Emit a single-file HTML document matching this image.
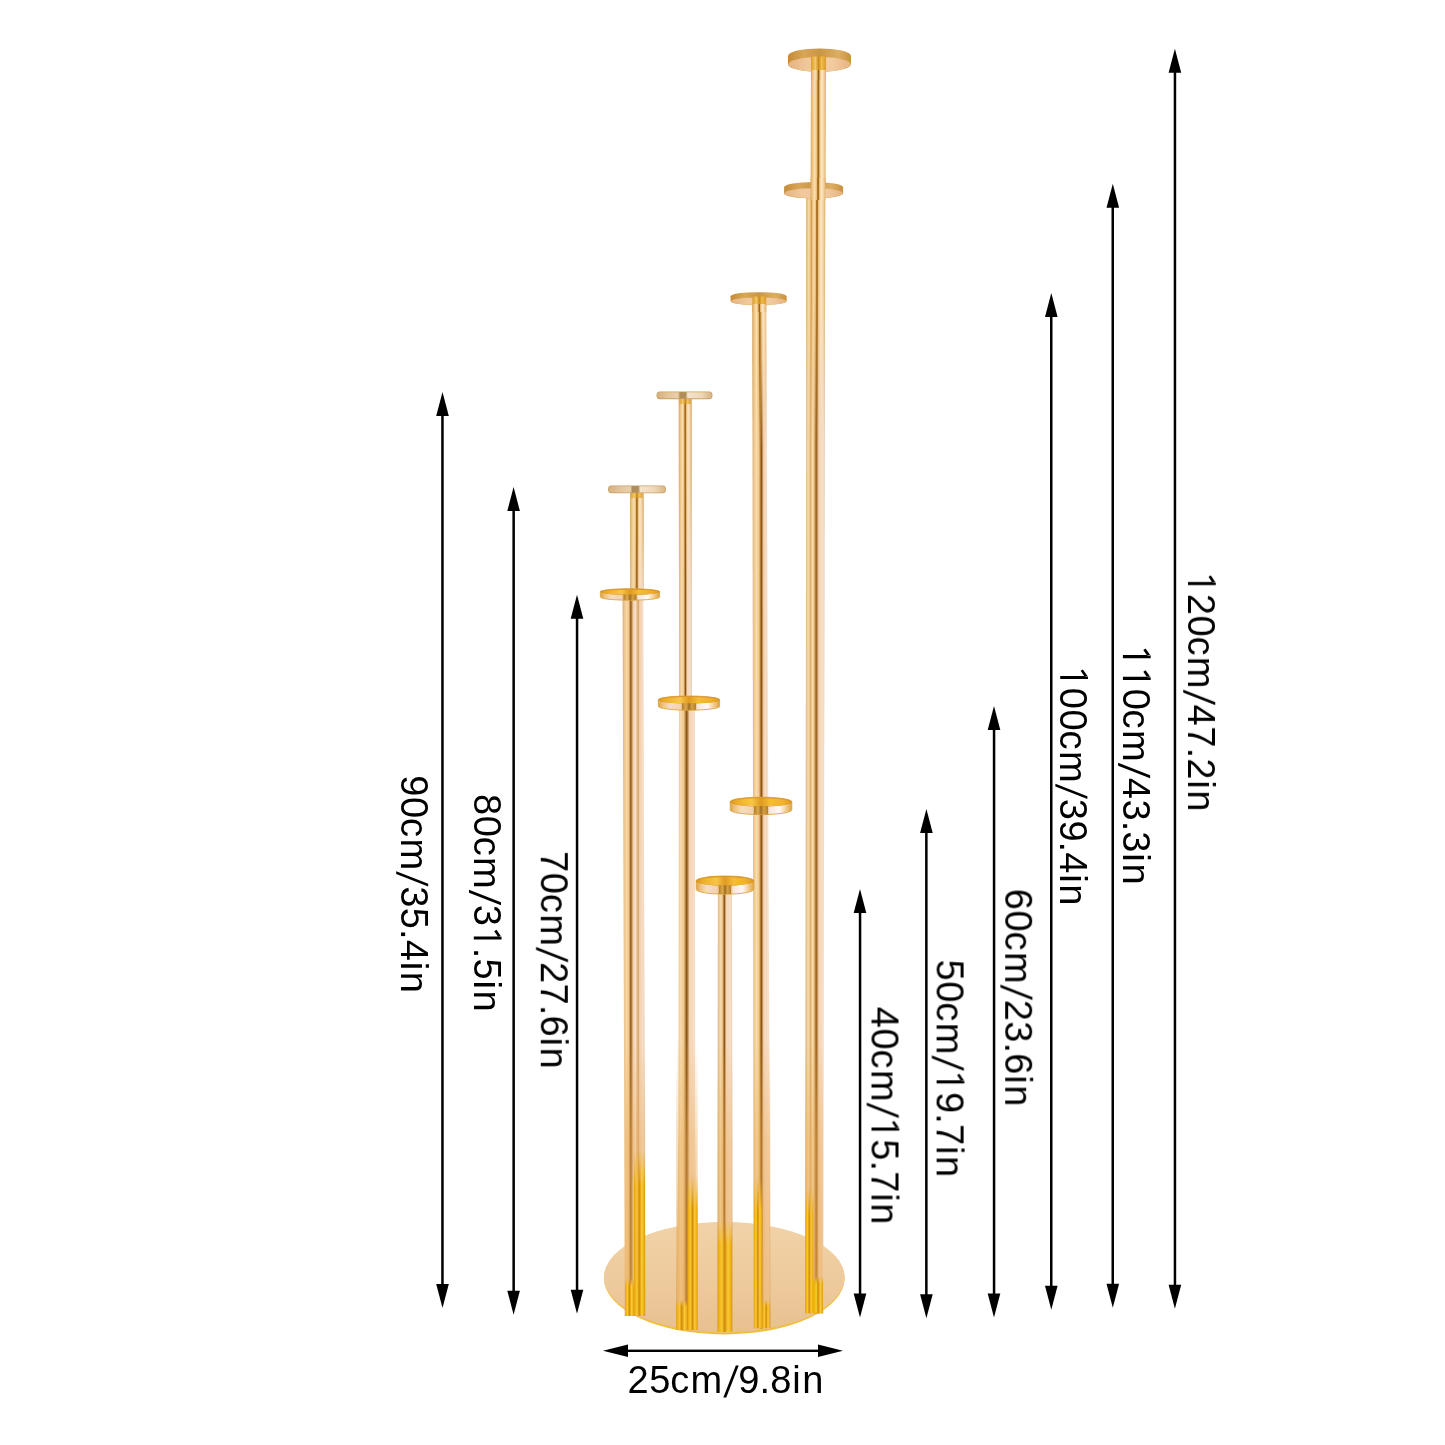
<!DOCTYPE html>
<html><head><meta charset="utf-8"><title>Candle holder dimensions</title>
<style>
html,body{margin:0;padding:0;background:#fff;}
body{width:1445px;height:1445px;overflow:hidden;}
svg{display:block;}
text{font-family:"Liberation Sans",sans-serif;fill:#000;}
</style></head><body>
<svg width="1445" height="1445" viewBox="0 0 1445 1445">
<defs>
<linearGradient id="gP5u" x1="0" y1="0" x2="1" y2="0"><stop offset="0.000" stop-color="#cfa46e"/><stop offset="0.060" stop-color="#e9c088"/><stop offset="0.211" stop-color="#f8dcaa"/><stop offset="0.320" stop-color="#efc58c"/><stop offset="0.407" stop-color="#b07a34"/><stop offset="0.470" stop-color="#c08630"/><stop offset="0.533" stop-color="#b98646"/><stop offset="0.620" stop-color="#f5d5b6"/><stop offset="0.900" stop-color="#f8dfc8"/><stop offset="0.960" stop-color="#e6ceb4"/><stop offset="1.000" stop-color="#c9b396"/></linearGradient>
<linearGradient id="gP5l" x1="0" y1="0" x2="1" y2="0"><stop offset="0.000" stop-color="#cfa46e"/><stop offset="0.060" stop-color="#e9c088"/><stop offset="0.150" stop-color="#f8dcaa"/><stop offset="0.270" stop-color="#e2b272"/><stop offset="0.370" stop-color="#f8dcaa"/><stop offset="0.440" stop-color="#efc58c"/><stop offset="0.518" stop-color="#b07a34"/><stop offset="0.560" stop-color="#9a6424"/><stop offset="0.602" stop-color="#b98646"/><stop offset="0.680" stop-color="#f5d5b6"/><stop offset="0.900" stop-color="#f8dfc8"/><stop offset="0.960" stop-color="#e6ceb4"/><stop offset="1.000" stop-color="#c9b396"/></linearGradient>
<linearGradient id="gP4" x1="0" y1="0" x2="1" y2="0"><stop offset="0.000" stop-color="#cfa46e"/><stop offset="0.060" stop-color="#e9c088"/><stop offset="0.225" stop-color="#f8dcaa"/><stop offset="0.370" stop-color="#efc58c"/><stop offset="0.451" stop-color="#b07a34"/><stop offset="0.500" stop-color="#834e14"/><stop offset="0.549" stop-color="#b98646"/><stop offset="0.630" stop-color="#f5d5b6"/><stop offset="0.900" stop-color="#f8dfc8"/><stop offset="0.960" stop-color="#e6ceb4"/><stop offset="1.000" stop-color="#c9b396"/></linearGradient>
<linearGradient id="gP3" x1="0" y1="0" x2="1" y2="0"><stop offset="0.000" stop-color="#cfa46e"/><stop offset="0.060" stop-color="#e9c088"/><stop offset="0.207" stop-color="#f8dcaa"/><stop offset="0.330" stop-color="#efc58c"/><stop offset="0.411" stop-color="#b07a34"/><stop offset="0.460" stop-color="#834e14"/><stop offset="0.509" stop-color="#b98646"/><stop offset="0.590" stop-color="#f5d5b6"/><stop offset="0.900" stop-color="#f8dfc8"/><stop offset="0.960" stop-color="#e6ceb4"/><stop offset="1.000" stop-color="#c9b396"/></linearGradient>
<linearGradient id="gP2u" x1="0" y1="0" x2="1" y2="0"><stop offset="0.000" stop-color="#cfa46e"/><stop offset="0.060" stop-color="#e9c088"/><stop offset="0.234" stop-color="#f8dcaa"/><stop offset="0.390" stop-color="#efc58c"/><stop offset="0.471" stop-color="#b07a34"/><stop offset="0.520" stop-color="#834e14"/><stop offset="0.569" stop-color="#b98646"/><stop offset="0.650" stop-color="#f5d5b6"/><stop offset="0.900" stop-color="#f8dfc8"/><stop offset="0.960" stop-color="#e6ceb4"/><stop offset="1.000" stop-color="#c9b396"/></linearGradient>
<linearGradient id="gP2l" x1="0" y1="0" x2="1" y2="0"><stop offset="0.000" stop-color="#cfa46e"/><stop offset="0.060" stop-color="#e9c088"/><stop offset="0.221" stop-color="#f8dcaa"/><stop offset="0.360" stop-color="#efc58c"/><stop offset="0.441" stop-color="#b07a34"/><stop offset="0.490" stop-color="#834e14"/><stop offset="0.539" stop-color="#b98646"/><stop offset="0.620" stop-color="#f5d5b6"/><stop offset="0.900" stop-color="#f8dfc8"/><stop offset="0.960" stop-color="#e6ceb4"/><stop offset="1.000" stop-color="#c9b396"/></linearGradient>
<linearGradient id="gP1u" x1="0" y1="0" x2="1" y2="0"><stop offset="0.000" stop-color="#cfa46e"/><stop offset="0.060" stop-color="#e9c088"/><stop offset="0.225" stop-color="#f8dcaa"/><stop offset="0.370" stop-color="#efc58c"/><stop offset="0.451" stop-color="#b07a34"/><stop offset="0.500" stop-color="#834e14"/><stop offset="0.549" stop-color="#b98646"/><stop offset="0.630" stop-color="#f5d5b6"/><stop offset="0.900" stop-color="#f8dfc8"/><stop offset="0.960" stop-color="#e6ceb4"/><stop offset="1.000" stop-color="#c9b396"/></linearGradient>
<linearGradient id="gU" x1="0" y1="0" x2="1" y2="0"><stop offset="0.000" stop-color="#d8a458"/><stop offset="0.100" stop-color="#ecc07c"/><stop offset="0.280" stop-color="#fae0b0"/><stop offset="0.410" stop-color="#ecbc74"/><stop offset="0.465" stop-color="#a87224"/><stop offset="0.500" stop-color="#8e5c1a"/><stop offset="0.535" stop-color="#a87224"/><stop offset="0.590" stop-color="#ecbe78"/><stop offset="0.720" stop-color="#fce8c8"/><stop offset="0.860" stop-color="#f4d09c"/><stop offset="1.000" stop-color="#dcae6c"/></linearGradient>
<linearGradient id="gU2" x1="0" y1="0" x2="1" y2="0"><stop offset="0.000" stop-color="#d8a458"/><stop offset="0.070" stop-color="#ecc07c"/><stop offset="0.160" stop-color="#fae0b0"/><stop offset="0.250" stop-color="#e4ae62"/><stop offset="0.290" stop-color="#d89c4c"/><stop offset="0.360" stop-color="#f4d098"/><stop offset="0.470" stop-color="#f8dcac"/><stop offset="0.520" stop-color="#e6b268"/><stop offset="0.550" stop-color="#a87224"/><stop offset="0.575" stop-color="#8e5c1a"/><stop offset="0.600" stop-color="#a87224"/><stop offset="0.635" stop-color="#eabc76"/><stop offset="0.780" stop-color="#fce8c8"/><stop offset="0.900" stop-color="#f4d09c"/><stop offset="1.000" stop-color="#dcae6c"/></linearGradient>
<linearGradient id="gP5lL" x1="0" y1="0" x2="1" y2="0"><stop offset="0.000" stop-color="#cfa46e"/><stop offset="0.060" stop-color="#e9c088"/><stop offset="0.100" stop-color="#f8dcaa"/><stop offset="0.220" stop-color="#e2b272"/><stop offset="0.320" stop-color="#f8dcaa"/><stop offset="0.360" stop-color="#efc58c"/><stop offset="0.444" stop-color="#e2ae62"/><stop offset="0.500" stop-color="#d9a152"/><stop offset="0.556" stop-color="#e6b670"/><stop offset="0.640" stop-color="#f3cc9c"/><stop offset="0.900" stop-color="#f8dfc8"/><stop offset="0.960" stop-color="#e6ceb4"/><stop offset="1.000" stop-color="#c9b396"/></linearGradient>
<linearGradient id="gP4L" x1="0" y1="0" x2="1" y2="0"><stop offset="0.000" stop-color="#cfa46e"/><stop offset="0.060" stop-color="#e9c088"/><stop offset="0.225" stop-color="#f8dcaa"/><stop offset="0.350" stop-color="#efc58c"/><stop offset="0.437" stop-color="#dfa95c"/><stop offset="0.500" stop-color="#d59c4a"/><stop offset="0.563" stop-color="#e4b26a"/><stop offset="0.650" stop-color="#f3cc9c"/><stop offset="0.900" stop-color="#f8dfc8"/><stop offset="0.960" stop-color="#e6ceb4"/><stop offset="1.000" stop-color="#c9b396"/></linearGradient>
<linearGradient id="topfade" gradientUnits="userSpaceOnUse" x1="0" y1="200" x2="0" y2="470"><stop offset="0" stop-color="#fff"/><stop offset="0.35" stop-color="#ddd"/><stop offset="1" stop-color="#000"/></linearGradient>
<mask id="mTop" maskUnits="userSpaceOnUse" x="0" y="0" width="1445" height="1445"><rect width="1445" height="1445" fill="url(#topfade)"/></mask>
<linearGradient id="gP1l" x1="0" y1="0" x2="1" y2="0"><stop offset="0.000" stop-color="#cfa46e"/><stop offset="0.050" stop-color="#e9c088"/><stop offset="0.170" stop-color="#f6d6a4"/><stop offset="0.280" stop-color="#efc58c"/><stop offset="0.330" stop-color="#b07a34"/><stop offset="0.365" stop-color="#834e14"/><stop offset="0.400" stop-color="#b98646"/><stop offset="0.470" stop-color="#f3d0ac"/><stop offset="0.570" stop-color="#f8dfc6"/><stop offset="0.650" stop-color="#e3b682"/><stop offset="0.690" stop-color="#d6a46a"/><stop offset="0.750" stop-color="#f2d0ae"/><stop offset="0.900" stop-color="#f8dfc8"/><stop offset="0.960" stop-color="#e6ceb4"/><stop offset="1.000" stop-color="#c9b396"/></linearGradient>
<linearGradient id="yel" x1="0" y1="0" x2="1" y2="0"><stop offset="0.000" stop-color="#e4a010"/><stop offset="0.120" stop-color="#f1b318"/><stop offset="0.300" stop-color="#f8c830"/><stop offset="0.460" stop-color="#d28c0c"/><stop offset="0.540" stop-color="#dc9a10"/><stop offset="0.700" stop-color="#f9cc38"/><stop offset="0.880" stop-color="#efb018"/><stop offset="1.000" stop-color="#d89410"/></linearGradient>
<linearGradient id="fadeg" x1="0" y1="0" x2="0" y2="1"><stop offset="0.000" stop-color="#000"/><stop offset="0.220" stop-color="#fff"/><stop offset="1.000" stop-color="#fff"/></linearGradient>
<mask id="fadeTop" maskContentUnits="objectBoundingBox"><rect width="1" height="1" fill="url(#fadeg)"/></mask>
<linearGradient id="warm" x1="0" y1="0" x2="0" y2="1"><stop offset="0.000" stop-color="#e8aa56" stop-opacity="0.00"/><stop offset="0.350" stop-color="#e8aa56" stop-opacity="0.38"/><stop offset="1.000" stop-color="#e6a44c" stop-opacity="0.55"/></linearGradient>
<linearGradient id="baseg" x1="0" y1="0" x2="0" y2="1"><stop offset="0.000" stop-color="#f1d2a8"/><stop offset="0.500" stop-color="#eecb9e"/><stop offset="1.000" stop-color="#e8c090"/></linearGradient>
<linearGradient id="dishTop" x1="0" y1="0" x2="1" y2="0"><stop offset="0.000" stop-color="#dc9a1e"/><stop offset="0.120" stop-color="#efb02a"/><stop offset="0.350" stop-color="#f7c548"/><stop offset="0.500" stop-color="#e09a20"/><stop offset="0.650" stop-color="#f5bc36"/><stop offset="0.880" stop-color="#f0b02a"/><stop offset="1.000" stop-color="#dc9a1e"/></linearGradient>
<linearGradient id="dishWall" x1="0" y1="0" x2="1" y2="0"><stop offset="0.000" stop-color="#dfa23e"/><stop offset="0.070" stop-color="#eec07c"/><stop offset="0.180" stop-color="#f6dcc0"/><stop offset="0.360" stop-color="#f3d2b0"/><stop offset="0.420" stop-color="#d59a3a"/><stop offset="0.580" stop-color="#d59a3a"/><stop offset="0.640" stop-color="#f8e6d6"/><stop offset="0.800" stop-color="#fffaf4"/><stop offset="0.920" stop-color="#f0c684"/><stop offset="1.000" stop-color="#dfa23e"/></linearGradient>
<linearGradient id="stemg" x1="0" y1="0" x2="1" y2="0"><stop offset="0.000" stop-color="#b47e28"/><stop offset="0.300" stop-color="#dcaa4c"/><stop offset="0.500" stop-color="#a06c20"/><stop offset="0.700" stop-color="#d6a044"/><stop offset="1.000" stop-color="#b47e28"/></linearGradient>
<linearGradient id="discU2" x1="0" y1="0" x2="1" y2="0"><stop offset="0.000" stop-color="#e2c094"/><stop offset="0.300" stop-color="#f0d6b4"/><stop offset="0.700" stop-color="#f2dabc"/><stop offset="1.000" stop-color="#e2c096"/></linearGradient>
<linearGradient id="discR2" x1="0" y1="0" x2="1" y2="0"><stop offset="0.000" stop-color="#c49a58"/><stop offset="0.300" stop-color="#dab67c"/><stop offset="0.550" stop-color="#cfa868"/><stop offset="0.800" stop-color="#dcba84"/><stop offset="1.000" stop-color="#c49a58"/></linearGradient>
<linearGradient id="flatg" x1="0" y1="0" x2="1" y2="0"><stop offset="0.000" stop-color="#d6b080"/><stop offset="0.200" stop-color="#e4c49a"/><stop offset="0.380" stop-color="#ead0ac"/><stop offset="0.420" stop-color="#b08c58"/><stop offset="0.520" stop-color="#b08c58"/><stop offset="0.560" stop-color="#f4e2ca"/><stop offset="0.800" stop-color="#f0d8b8"/><stop offset="1.000" stop-color="#d8b484"/></linearGradient>
<linearGradient id="discU" x1="0" y1="0" x2="1" y2="0"><stop offset="0.000" stop-color="#e6b47e"/><stop offset="0.300" stop-color="#f1c79c"/><stop offset="0.700" stop-color="#f3cba2"/><stop offset="1.000" stop-color="#e6b480"/></linearGradient>
<linearGradient id="discR" x1="0" y1="0" x2="1" y2="0"><stop offset="0.000" stop-color="#c48c3a"/><stop offset="0.250" stop-color="#d8a656"/><stop offset="0.500" stop-color="#c99646"/><stop offset="0.800" stop-color="#dcae62"/><stop offset="1.000" stop-color="#c8923e"/></linearGradient>
<linearGradient id="mP5g" gradientUnits="userSpaceOnUse" x1="0" y1="205" x2="0" y2="440"><stop offset="0" stop-color="#fff"/><stop offset="0.4" stop-color="#ccc"/><stop offset="1" stop-color="#000"/></linearGradient>
<mask id="mP5" maskUnits="userSpaceOnUse" x="0" y="0" width="1445" height="1445"><rect width="1445" height="1445" fill="url(#mP5g)"/></mask>
<linearGradient id="mP4g" gradientUnits="userSpaceOnUse" x1="0" y1="300" x2="0" y2="450"><stop offset="0" stop-color="#fff"/><stop offset="0.4" stop-color="#ccc"/><stop offset="1" stop-color="#000"/></linearGradient>
<mask id="mP4" maskUnits="userSpaceOnUse" x="0" y="0" width="1445" height="1445"><rect width="1445" height="1445" fill="url(#mP4g)"/></mask>
<linearGradient id="mP2g" gradientUnits="userSpaceOnUse" x1="0" y1="398" x2="0" y2="600"><stop offset="0" stop-color="#fff"/><stop offset="0.4" stop-color="#ccc"/><stop offset="1" stop-color="#000"/></linearGradient>
<mask id="mP2" maskUnits="userSpaceOnUse" x="0" y="0" width="1445" height="1445"><rect width="1445" height="1445" fill="url(#mP2g)"/></mask>
<linearGradient id="mP1g" gradientUnits="userSpaceOnUse" x1="0" y1="500" x2="0" y2="600"><stop offset="0" stop-color="#fff"/><stop offset="0.4" stop-color="#ccc"/><stop offset="1" stop-color="#000"/></linearGradient>
<mask id="mP1" maskUnits="userSpaceOnUse" x="0" y="0" width="1445" height="1445"><rect width="1445" height="1445" fill="url(#mP1g)"/></mask>
<linearGradient id="stub" x1="0" y1="0" x2="1" y2="0"><stop offset="0.000" stop-color="#d89a30"/><stop offset="0.300" stop-color="#f4c860"/><stop offset="0.500" stop-color="#c98a22"/><stop offset="0.700" stop-color="#f2bc48"/><stop offset="1.000" stop-color="#d89a30"/></linearGradient>
</defs>
<rect width="1445" height="1445" fill="#ffffff"/>
<ellipse cx="724.3" cy="1278.4" rx="120.3" ry="56" fill="#efbf3c"/>
<ellipse cx="724.3" cy="1277.2" rx="120.3" ry="55.2" fill="url(#baseg)"/>
<polygon points="806.4,192.0 825.2,192.0 823.2,1313.5 805.2,1313.5" fill="url(#gP5l)" />
<polygon points="811.0,60.0 826.0,60.0 825.6,192.0 810.6,192.0" fill="url(#gU)" />
<polygon points="752.4,298.0 766.2,298.0 770.4,1328.5 753.6,1328.5" fill="url(#gP4)" />
<polygon points="717.9,886.0 732.0,886.0 732.4,1331.6 717.5,1331.6" fill="url(#gP3)" />
<polygon points="679.0,703.0 695.0,703.0 695.2,1130.0 697.8,1330.0 676.1,1330.0 678.4,1130.0" fill="url(#gP2l)" />
<polygon points="678.8,398.0 691.6,398.0 691.6,700.0 679.1,700.0" fill="url(#gP2u)" />
<polygon points="622.6,595.0 643.3,595.0 645.3,1316.0 624.8,1316.0" fill="url(#gP1l)" />
<polygon points="630.2,492.0 643.6,492.0 643.6,592.0 630.2,592.0" fill="url(#gP1u)" />
<polygon points="806.4,192.0 825.2,192.0 824.7,530.0 806.0,530.0" fill="url(#gU2)" mask="url(#mP5)"/>
<polygon points="752.4,298.0 766.2,298.0 767.1,570.0 752.7,570.0" fill="url(#gU)" mask="url(#mP4)"/>
<polygon points="678.8,398.0 691.6,398.0 691.6,670.0 679.1,670.0" fill="url(#gU)" mask="url(#mP2)"/>
<polygon points="630.2,492.0 643.6,492.0 643.6,592.0 630.2,592.0" fill="url(#gU)" mask="url(#mP1)"/>
<rect x="805.2" y="1040.0" width="18.0" height="273.5" fill="url(#warm)" />
<rect x="753.6" y="1040.0" width="16.8" height="288.5" fill="url(#warm)" />
<rect x="717.5" y="1040.0" width="14.9" height="291.6" fill="url(#warm)" />
<rect x="676.1" y="1040.0" width="21.7" height="290.0" fill="url(#warm)" />
<rect x="624.8" y="1040.0" width="20.5" height="276.0" fill="url(#warm)" />
<rect x="633.8" y="1150.0" width="11.3" height="166.0" fill="url(#yel)" mask="url(#fadeTop)"/>
<rect x="624.8" y="1278.0" width="9.5" height="38.0" fill="url(#yel)" mask="url(#fadeTop)"/>
<rect x="687.6" y="1175.0" width="10.1" height="155.0" fill="url(#yel)" mask="url(#fadeTop)"/>
<rect x="676.2" y="1300.0" width="11.6" height="30.0" fill="url(#yel)" mask="url(#fadeTop)"/>
<rect x="717.5" y="1221.0" width="14.9" height="110.6" fill="url(#yel)" mask="url(#fadeTop)"/>
<rect x="753.7" y="1178.0" width="8.6" height="150.5" fill="url(#yel)" mask="url(#fadeTop)"/>
<rect x="762.2" y="1300.0" width="8.2" height="28.5" fill="url(#yel)" mask="url(#fadeTop)"/>
<rect x="805.3" y="1188.0" width="8.2" height="125.5" fill="url(#yel)" mask="url(#fadeTop)"/>
<rect x="813.4" y="1276.0" width="9.8" height="37.5" fill="url(#yel)" mask="url(#fadeTop)"/>
<path d="M788.0,55.9 A31.5,7.5 0 0 1 851.0,55.9 L851.0,64.3 A31.5,7.5 0 0 1 788.0,64.3 Z" fill="url(#discR)"/>
<ellipse cx="819.5" cy="64.3" rx="31.1" ry="7.3" fill="url(#discU)"/>
<path d="M784.1,187.2 A29.5,5.2 0 0 1 843.1,187.2 L843.1,193.2 A29.5,5.2 0 0 1 784.1,193.2 Z" fill="url(#discR)"/>
<ellipse cx="813.6" cy="193.2" rx="29.1" ry="5.0" fill="url(#discU)"/>
<path d="M730.6,296.2 A28.0,4.0 0 0 1 786.6,296.2 L786.6,301.2 A28.0,4.0 0 0 1 730.6,301.2 Z" fill="url(#discR)"/>
<ellipse cx="758.6" cy="301.2" rx="27.6" ry="3.8" fill="url(#discU)"/>
<rect x="656.5" y="391.4" width="56.0" height="7.8" rx="3.2" ry="3.9" fill="#c9a066"/>
<rect x="657.2" y="392.3" width="54.6" height="6.0" rx="2.6" ry="3.0" fill="url(#flatg)"/>
<rect x="608.0" y="485.4" width="58.0" height="7.9" rx="3.2" ry="4.0" fill="#c9a066"/>
<rect x="608.7" y="486.3" width="56.6" height="6.1" rx="2.6" ry="3.1" fill="url(#flatg)"/>
<rect x="811.0" y="56.5" width="15.0" height="15.5" fill="url(#stub)" />
<polygon points="811.0,70.0 826.0,70.0 826.0,80.0 811.0,80.0" fill="url(#gU)" />
<polygon points="810.7,178.0 825.7,178.0 825.4,200.0 810.5,200.0" fill="url(#gU)" />
<rect x="752.4" y="296.5" width="13.8" height="9.0" fill="url(#stub)" />
<polygon points="752.4,304.0 766.2,304.0 766.2,312.0 752.4,312.0" fill="url(#gU)" />
<rect x="679.6" y="399.0" width="11.2" height="5.0" fill="url(#stub)" opacity="0.85"/>
<rect x="631.2" y="493.0" width="11.2" height="5.0" fill="url(#stub)" opacity="0.85"/>
<path d="M600.4,591.8 A29.6,3.1 0 0 1 659.6,591.8 L659.6,597.1 A29.6,3.1 0 0 1 600.4,597.1 Z" fill="url(#dishWall)" stroke="#dda548" stroke-width="0.9"/>
<ellipse cx="630.0" cy="591.8" rx="30.0" ry="3.1" fill="#d9982a"/>
<ellipse cx="630.0" cy="592.2" rx="28.8" ry="2.4" fill="url(#dishTop)"/>
<rect x="623.5" y="594.6" width="13.0" height="5.3" fill="url(#stemg)" />
<path d="M658.4,699.8 A30.6,3.8 0 0 1 719.6,699.8 L719.6,706.4 A30.6,3.8 0 0 1 658.4,706.4 Z" fill="url(#dishWall)" stroke="#dda548" stroke-width="0.9"/>
<ellipse cx="689.0" cy="699.8" rx="31.0" ry="3.8" fill="#d9982a"/>
<ellipse cx="689.0" cy="700.2" rx="29.8" ry="3.1" fill="url(#dishTop)"/>
<rect x="682.0" y="703.3" width="14.0" height="6.6" fill="url(#stemg)" />
<path d="M730.2,801.9 A30.8,4.7 0 0 1 791.8,801.9 L791.8,809.9 A30.8,4.7 0 0 1 730.2,809.9 Z" fill="url(#dishWall)" stroke="#dda548" stroke-width="0.9"/>
<ellipse cx="761.0" cy="801.9" rx="31.2" ry="4.7" fill="#d9982a"/>
<ellipse cx="761.0" cy="802.3" rx="30.0" ry="4.0" fill="url(#dishTop)"/>
<rect x="754.0" y="806.1" width="14.0" height="8.2" fill="url(#stemg)" />
<path d="M696.2,880.9 A28.8,4.9 0 0 1 753.8,880.9 L753.8,889.3 A28.8,4.9 0 0 1 696.2,889.3 Z" fill="url(#dishWall)" stroke="#dda548" stroke-width="0.9"/>
<ellipse cx="725.0" cy="880.9" rx="29.2" ry="4.9" fill="#d9982a"/>
<ellipse cx="725.0" cy="881.3" rx="28.0" ry="4.2" fill="url(#dishTop)"/>
<rect x="719.0" y="885.3" width="12.0" height="8.6" fill="url(#stemg)" />
<rect x="441.2" y="414.0" width="2.5" height="872.0" fill="#000" />
<polygon points="442.5,392.0 436.2,416.0 448.8,416.0" fill="#000"/>
<polygon points="442.5,1308.0 436.2,1284.0 448.8,1284.0" fill="#000"/>
<rect x="512.4" y="509.0" width="2.5" height="783.7" fill="#000" />
<polygon points="513.6,487.0 507.3,511.0 519.9,511.0" fill="#000"/>
<polygon points="513.6,1314.7 507.3,1290.7 519.9,1290.7" fill="#000"/>
<rect x="575.8" y="616.7" width="2.5" height="675.0" fill="#000" />
<polygon points="577.0,594.7 570.7,618.7 583.3,618.7" fill="#000"/>
<polygon points="577.0,1313.7 570.7,1289.7 583.3,1289.7" fill="#000"/>
<rect x="858.8" y="911.0" width="2.5" height="384.6" fill="#000" />
<polygon points="860.0,889.0 853.7,913.0 866.3,913.0" fill="#000"/>
<polygon points="860.0,1317.6 853.7,1293.6 866.3,1293.6" fill="#000"/>
<rect x="925.1" y="831.0" width="2.5" height="465.2" fill="#000" />
<polygon points="926.4,809.0 920.1,833.0 932.7,833.0" fill="#000"/>
<polygon points="926.4,1318.2 920.1,1294.2 932.7,1294.2" fill="#000"/>
<rect x="992.8" y="728.0" width="2.5" height="567.6" fill="#000" />
<polygon points="994.0,706.0 987.7,730.0 1000.3,730.0" fill="#000"/>
<polygon points="994.0,1317.6 987.7,1293.6 1000.3,1293.6" fill="#000"/>
<rect x="1050.0" y="315.0" width="2.5" height="972.8" fill="#000" />
<polygon points="1051.3,293.0 1045.0,317.0 1057.6,317.0" fill="#000"/>
<polygon points="1051.3,1309.8 1045.0,1285.8 1057.6,1285.8" fill="#000"/>
<rect x="1111.5" y="205.7" width="2.5" height="1080.0" fill="#000" />
<polygon points="1112.8,183.7 1106.5,207.7 1119.1,207.7" fill="#000"/>
<polygon points="1112.8,1307.7 1106.5,1283.7 1119.1,1283.7" fill="#000"/>
<rect x="1173.7" y="70.8" width="2.5" height="1215.9" fill="#000" />
<polygon points="1174.9,48.8 1168.6,72.8 1181.2,72.8" fill="#000"/>
<polygon points="1174.9,1308.7 1168.6,1284.7 1181.2,1284.7" fill="#000"/>
<rect x="626.0" y="1349.6" width="194.0" height="2.4" fill="#000" />
<polygon points="603.0,1350.8 628.0,1344.5 628.0,1357.1" fill="#000"/>
<polygon points="843.0,1350.8 818.0,1344.5 818.0,1357.1" fill="#000"/>
<g opacity="0.999" fill="#000">
<g transform="translate(401.00,775.00) rotate(90)"><text y="0.00" font-size="38.0" x="0.30 22.03 43.00 63.39 111.13 132.86 154.06 164.70 186.71 196.82">90cm35.4in</text><path d="M96.13,4.80 h2.9 L111.53,-27.20 h-2.9 z"/></g>
<g transform="translate(473.80,793.70) rotate(90)"><text y="0.00" font-size="38.0" x="0.30 22.03 43.00 63.39 111.13 154.06 164.70 186.71 196.82">80cm3.5in</text><path d="M96.13,4.80 h2.9 L111.53,-27.20 h-2.9 z"/><path d="M142.76,-27.80 h3.1 v27.8 h-3.1 z M143.46,-27.80 L136.16,-22.70 L137.56,-20.40 L142.86,-24.00 z"/></g>
<g transform="translate(540.80,850.80) rotate(90)"><text y="0.00" font-size="38.0" x="0.30 22.03 43.00 63.39 111.13 132.86 154.06 164.70 186.71 196.82">70cm27.6in</text><path d="M96.13,4.80 h2.9 L111.53,-27.20 h-2.9 z"/></g>
<g transform="translate(871.50,1006.50) rotate(90)"><text y="0.00" font-size="38.0" x="0.30 22.03 43.00 63.39 132.86 154.06 164.70 186.71 196.82">40cm5.7in</text><path d="M96.13,4.80 h2.9 L111.53,-27.20 h-2.9 z"/><path d="M121.03,-27.80 h3.1 v27.8 h-3.1 z M121.73,-27.80 L114.43,-22.70 L115.83,-20.40 L121.13,-24.00 z"/></g>
<g transform="translate(936.60,959.30) rotate(90)"><text y="0.00" font-size="38.0" x="0.30 22.03 43.00 63.39 132.86 154.06 164.70 186.71 196.82">50cm9.7in</text><path d="M96.13,4.80 h2.9 L111.53,-27.20 h-2.9 z"/><path d="M121.03,-27.80 h3.1 v27.8 h-3.1 z M121.73,-27.80 L114.43,-22.70 L115.83,-20.40 L121.13,-24.00 z"/></g>
<g transform="translate(1005.20,888.50) rotate(90)"><text y="0.00" font-size="38.0" x="0.30 22.03 43.00 63.39 111.13 132.86 154.06 164.70 186.71 196.82">60cm23.6in</text><path d="M96.13,4.80 h2.9 L111.53,-27.20 h-2.9 z"/></g>
<g transform="translate(1060.20,665.80) rotate(90)"><text y="0.00" font-size="38.0" x="22.03 43.76 64.73 85.12 132.86 154.59 175.79 186.42 208.44 218.55">00cm39.4in</text><path d="M10.20,-27.80 h3.1 v27.8 h-3.1 z M10.90,-27.80 L3.60,-22.70 L5.00,-20.40 L10.30,-24.00 z"/><path d="M117.86,4.80 h2.9 L133.26,-27.20 h-2.9 z"/></g>
<g transform="translate(1122.90,644.90) rotate(90)"><text y="0.00" font-size="38.0" x="43.76 64.73 85.12 132.86 154.59 175.79 186.42 208.44 218.55">0cm43.3in</text><path d="M10.20,-27.80 h3.1 v27.8 h-3.1 z M10.90,-27.80 L3.60,-22.70 L5.00,-20.40 L10.30,-24.00 z"/><path d="M31.93,-27.80 h3.1 v27.8 h-3.1 z M32.63,-27.80 L25.33,-22.70 L26.73,-20.40 L32.03,-24.00 z"/><path d="M117.86,4.80 h2.9 L133.26,-27.20 h-2.9 z"/></g>
<g transform="translate(1188.00,571.80) rotate(90)"><text y="0.00" font-size="38.0" x="22.03 43.76 64.73 85.12 132.86 154.59 175.79 186.42 208.44 218.55">20cm47.2in</text><path d="M10.20,-27.80 h3.1 v27.8 h-3.1 z M10.90,-27.80 L3.60,-22.70 L5.00,-20.40 L10.30,-24.00 z"/><path d="M117.86,4.80 h2.9 L133.26,-27.20 h-2.9 z"/></g>
<g><text y="1392.60" font-size="38.0" x="627.50 649.23 670.20 690.59 738.33 759.53 770.17 792.18 802.29">25cm9.8in</text><path d="M723.33,1397.40 h2.9 L738.73,1365.40 h-2.9 z"/></g>
</g>
</svg>
</body></html>
